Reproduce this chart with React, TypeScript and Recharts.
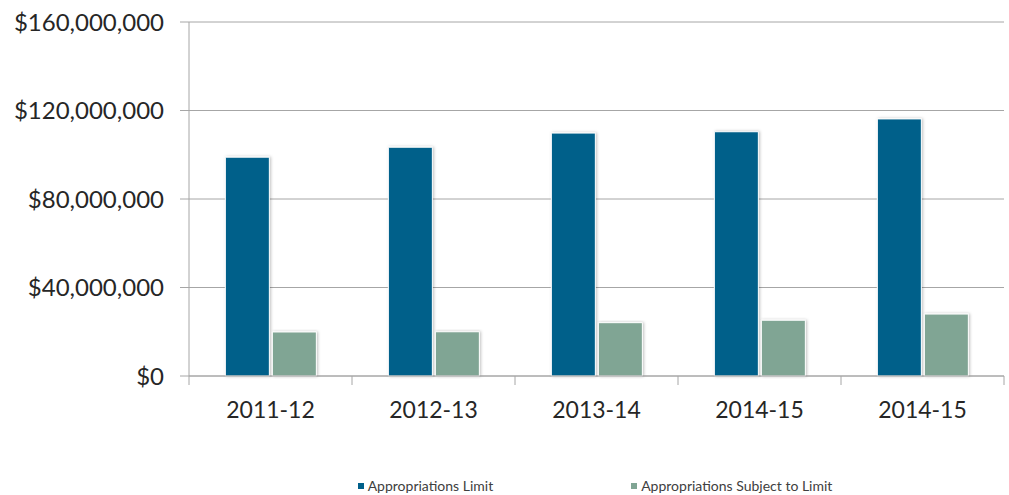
import React from "react";
import { BarChart, Bar, XAxis, YAxis, CartesianGrid, Legend } from "recharts";

const categories = ["2011-12", "2012-13", "2013-14", "2014-15", "2014-15"];
const appropriationsLimit = [98900000, 103400000, 109800000, 110400000, 116200000];
const subjectToLimit = [19900000, 20000000, 24100000, 25200000, 28000000];
const yTicks = [0, 40000000, 80000000, 120000000, 160000000];
const seriesNames = ["Appropriations Limit", "Appropriations Subject to Limit"];
const seriesColors = ["#00608A", "#80A594"];

const data = categories.map((c, i) => ({
  name: c,
  limit: appropriationsLimit[i],
  subject: subjectToLimit[i],
}));

const FONT = "Lato, 'Liberation Sans', sans-serif";
const AXIS_COLOR = "#A6A6A6";

const fmt = (v: number) => "$" + v.toLocaleString("en-US");

const XTick = (props: any) => {
  const { x, y, payload, width, visibleTicksCount, index } = props;
  const band = width / visibleTicksCount;
  const top = y - 8;
  return (
    <g>
      {index === 0 && (
        <line x1={x - band / 2} x2={x - band / 2} y1={top} y2={top + 9} stroke={AXIS_COLOR} strokeWidth={1} />
      )}
      <line x1={x + band / 2} x2={x + band / 2} y1={top} y2={top + 9} stroke={AXIS_COLOR} strokeWidth={1} />
      <text x={x} y={top + 36} textAnchor="middle" dominantBaseline="middle" fill="#262626" fontSize={23} fontFamily={FONT}>
        {payload.value}
      </text>
    </g>
  );
};

const LegendContent = () => (
  <div
    style={{
      display: "flex",
      justifyContent: "center",
      gap: 138,
      paddingLeft: 186,
      paddingTop: 12,
      fontFamily: FONT,
      fontSize: 14,
      color: "#404040",
    }}
  >
    {seriesNames.map((n, i) => (
      <div key={i} style={{ display: "flex", alignItems: "center" }}>
        <span style={{ width: 6, height: 6, background: seriesColors[i], display: "inline-block", marginRight: 4 }} />
        <span>{n}</span>
      </div>
    ))}
  </div>
);

export default function App() {
  return (
    <div style={{ position: "absolute", left: 0, top: 0, background: "#fff" }}>
      <BarChart
        width={1009}
        height={495}
        data={data}
        margin={{ top: 22, right: 5, left: 0, bottom: 0 }}
        barCategoryGap="22.3%"
        barGap={3}
      >
        <defs>
          <filter id="shadow" x="-20%" y="-5%" width="140%" height="110%">
            <feDropShadow dx="1" dy="0" stdDeviation="1.5" floodColor="#000" floodOpacity="0.25" />
          </filter>
        </defs>
        <CartesianGrid vertical={false} stroke={AXIS_COLOR} strokeWidth={1} />
        <XAxis
          dataKey="name"
          axisLine={{ stroke: AXIS_COLOR }}
          tickLine={false}
          tick={<XTick />}
          height={89}
          interval={0}
        />
        <YAxis
          width={189}
          domain={[0, 160000000]}
          ticks={yTicks}
          tickFormatter={fmt}
          axisLine={{ stroke: AXIS_COLOR }}
          tickLine={{ stroke: AXIS_COLOR }}
          tickSize={9}
          tickMargin={16}
          tick={{ fill: "#262626", fontSize: 24, fontFamily: FONT }}
        />
        <Legend verticalAlign="bottom" height={30} content={<LegendContent />} />
        <Bar dataKey="limit" name={seriesNames[0]} fill={seriesColors[0]} stroke="#fff" strokeWidth={1} isAnimationActive={false} style={{ filter: "url(#shadow)" }} />
        <Bar dataKey="subject" name={seriesNames[1]} fill={seriesColors[1]} stroke="#fff" strokeWidth={1} isAnimationActive={false} style={{ filter: "url(#shadow)" }} />
      </BarChart>
    </div>
  );
}
